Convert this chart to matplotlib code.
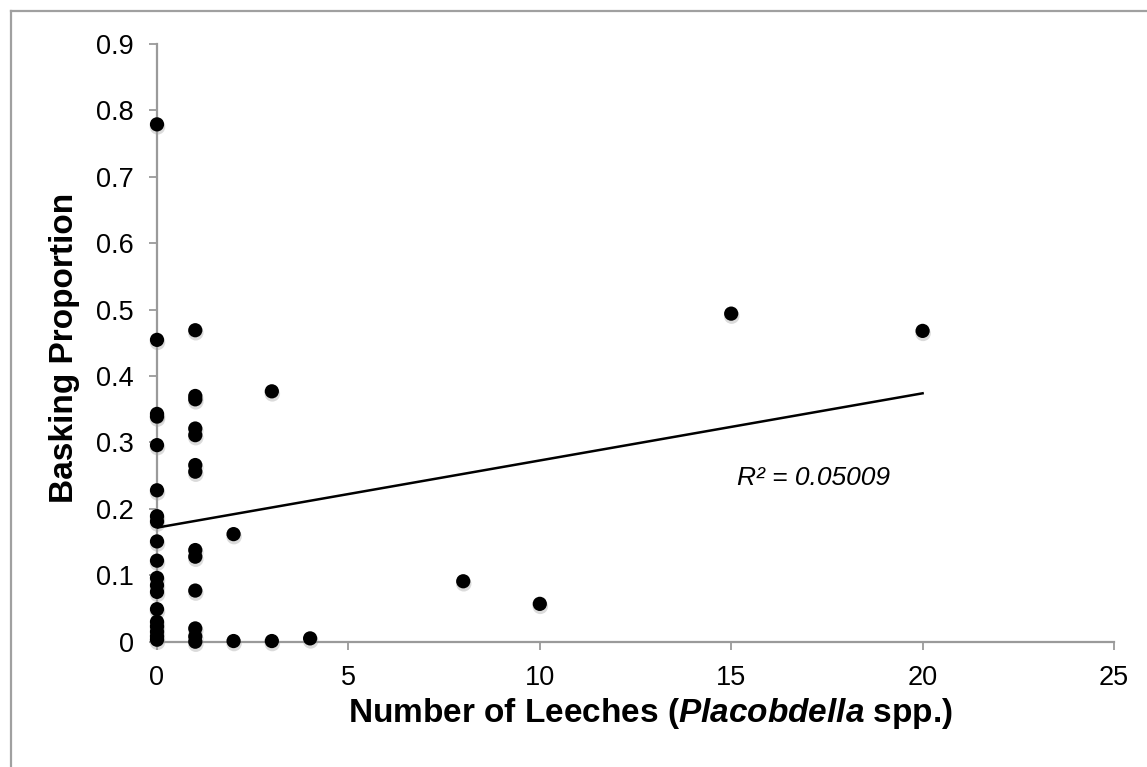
import matplotlib
matplotlib.use("Agg")
import matplotlib.pyplot as plt
import matplotlib.transforms as mtransforms
from matplotlib.lines import Line2D
import numpy as np

# leeches per turtle vs basking proportion
leeches = [0] * 19 + [1] * 13 + [2, 2, 3, 3, 4, 8, 10, 15, 20]
basking = [0.779, 0.4545, 0.343, 0.339, 0.296, 0.228, 0.189, 0.181, 0.151, 0.122,
           0.096, 0.085, 0.075, 0.049, 0.030, 0.023, 0.015, 0.008, 0.003,
           0.469, 0.370, 0.365, 0.321, 0.311, 0.266, 0.256, 0.138, 0.128, 0.077,
           0.020, 0.008, 0.0,
           0.162, 0.001, 0.377, 0.001, 0.005, 0.091, 0.057, 0.494, 0.468]
r2_label = "R\u00b2 = 0.05009"
x_ticks = [0, 5, 10, 15, 20, 25]
y_ticks = [0, 0.1, 0.2, 0.3, 0.4, 0.5, 0.6, 0.7, 0.8, 0.9]

plt.rcParams['font.family'] = ['Liberation Sans', 'DejaVu Sans']
plt.rcParams['mathtext.fontset'] = 'custom'
plt.rcParams['mathtext.it'] = 'Liberation Sans:italic:bold'
plt.rcParams['mathtext.rm'] = 'Liberation Sans:bold'

fig = plt.figure(figsize=(11.47, 7.67), dpi=100)
ax = fig.add_axes([157 / 1147, 1 - 641.7 / 767, 957 / 1147, 597.7 / 767])

x = np.array(leeches, dtype=float)
y = np.array(basking)

# soft drop shadow under the dots
shadow = mtransforms.offset_copy(ax.transData, fig=fig, x=0.5, y=-2.5, units='dots')
ax.scatter(x, y, s=125, color='#999999', alpha=0.35, edgecolors='none',
           transform=shadow, zorder=2, clip_on=False)
ax.scatter(x, y, s=105, color='black', edgecolors='none', zorder=3, clip_on=False)

# linear trend
slope, icpt = np.polyfit(x, y, 1)
xt = np.array([x.min(), x.max()])
ax.plot(xt, icpt + slope * xt, color='black', lw=1.8, zorder=4)
ax.text(15.14, 0.2465, r2_label, fontsize=19, style='italic', ha='left', va='center')

ax.set_xlim(0, 25)
ax.set_ylim(0, 0.9)
ax.set_xticks(x_ticks)
ax.set_yticks(y_ticks)
ax.set_xticklabels([str(t) for t in x_ticks])
ax.set_yticklabels(['0'] + [f'{t:.1f}' for t in y_ticks[1:]])

for side in ['top', 'right']:
    ax.spines[side].set_visible(False)
for side in ['left', 'bottom']:
    ax.spines[side].set_color('#9a9a9a')
    ax.spines[side].set_linewidth(1.6)
ax.tick_params(axis='both', direction='out', length=5.5, width=1.3, color='#9a9a9a',
               labelsize=19.5, labelcolor='black')
ax.tick_params(axis='y', pad=11)
ax.tick_params(axis='x', pad=11)

ax.set_ylabel('Basking Proportion', fontsize=24, fontweight='bold')
ax.yaxis.set_label_coords(-0.080, 0.492)
ax.set_xlabel(r'Number of Leeches ($Placobdella$ spp.)', fontsize=24, fontweight='bold')
ax.xaxis.set_label_coords(0.516, -0.0914)

# frame lines at top and left of the image
fig.add_artist(Line2D([10.5 / 1147, 1], [1 - 10.5 / 767] * 2, transform=fig.transFigure,
                      color='#a0a0a0', lw=1.6))
fig.add_artist(Line2D([10.5 / 1147] * 2, [0, 1 - 10.5 / 767], transform=fig.transFigure,
                      color='#a0a0a0', lw=1.6))

fig.savefig('out.png', dpi=100)
